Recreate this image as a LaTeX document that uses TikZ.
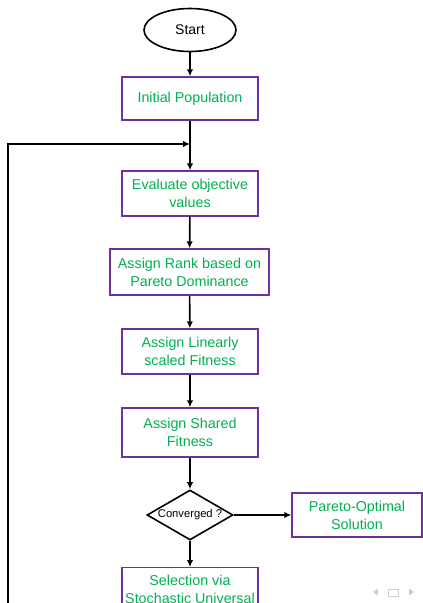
\documentclass[tikz,border=0pt]{standalone}
\usepackage{fontspec}
\setmainfont{Liberation Sans}
\usetikzlibrary{shapes.geometric,arrows.meta}
\definecolor{boxgreen}{RGB}{0,176,80}
\definecolor{boxpurple}{RGB}{112,48,160}
\definecolor{navgray}{RGB}{200,206,218}
\begin{document}
\begin{tikzpicture}[x=1pt,y=-1pt,
        block/.style = {draw = boxpurple, line width = 1.4pt, text = boxgreen, align = center,
            inner sep = 0pt, font = \fontsize{14.3}{18}\selectfont},
        arrow/.style = {line width = 1.6pt, -{Latex[length=7pt,width=6.5pt]}}]
        \useasboundingbox (0,0) rectangle (423,603);
        \begin{scope}
            \clip (0,0) rectangle (423,603);
            \node[draw, ellipse, line width = 1.6pt, minimum width = 92pt, minimum height = 43pt,
                font = \fontsize{14}{16}\selectfont] (start) at (190,30) {Start};
            \node[block, minimum width = 136pt, minimum height = 43pt] (init) at (190,98.5) {Initial Population};
            \node[block, minimum width = 136pt, minimum height = 45pt] (eval) at (190,193.5) {Evaluate objective\\values};
            \node[block, minimum width = 159pt, minimum height = 46pt] (rank) at (189.5,272) {Assign Rank based on\\Pareto Dominance};
            \node[block, minimum width = 136pt, minimum height = 45pt] (linfit) at (190,351.5) {Assign Linearly\\scaled Fitness};
            \node[block, minimum width = 136pt, minimum height = 49pt] (sharefit) at (190,432.5) {Assign Shared\\Fitness};
            \node[draw, diamond, line width = 1.6pt, aspect = 1.72, inner sep = 0pt, minimum width = 86pt,
                minimum height = 50pt, font = \fontsize{11.2}{13}\selectfont] (conv) at (190,515) {Converged ?};
            \node[block, minimum width = 130pt, minimum height = 44pt] (pareto) at (357,515) {Pareto-Optimal\\Solution};
            \node[block, minimum width = 136pt, minimum height = 64pt, anchor = north] (select) at (190,567)
                {Selection via\\Stochastic Universal\\Sampling};
            \coordinate (merge) at (190,144);
            \coordinate (loopstart) at (8,640);
            % main chain
            \draw[arrow] (start) -- (init);
            \draw[arrow] (init) -- (eval);
            \draw[arrow] (eval) -- (rank);
            \draw[arrow] (rank) -- (linfit);
            \draw[arrow] (linfit) -- (sharefit);
            \draw[arrow] (sharefit) -- (conv);
            \draw[arrow] (conv) -- (pareto);
            \draw[arrow] (conv) -- (select);
            % loop back
            \draw[arrow] (loopstart) |- (merge);
        \end{scope}
        % navigation symbols
        \begin{scope}[style = navgray]
            \fill (373,592) -- (378,588.5) -- (378,595.5) -- cycle;
            \draw[line width = 1pt] (388,589) rectangle (398,596);
            \fill (414,592) -- (409,588.5) -- (409,595.5) -- cycle;
        \end{scope}
\end{tikzpicture}
\end{document}
